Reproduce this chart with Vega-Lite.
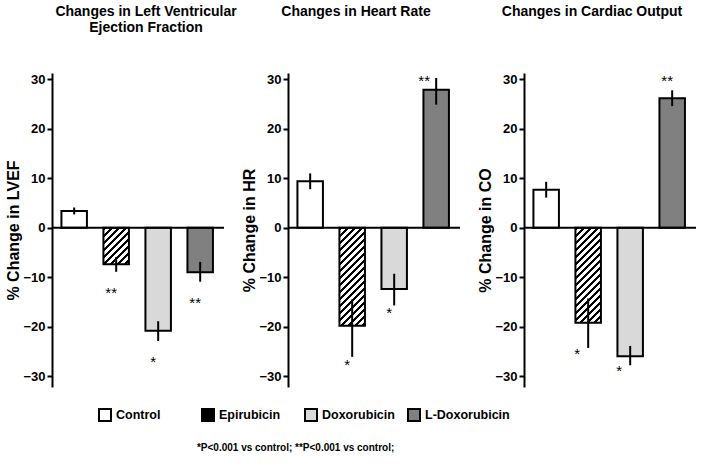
{
  "$schema": "https://vega.github.io/schema/vega-lite/v6.json",
  "background": "white",
  "padding": {"left": 5, "top": 5, "right": 5, "bottom": 5},
  "spacing": 64,
  "bounds": "flush",
  "config": {
    "font": "Liberation Sans",
    "view": {"stroke": null},
    "axis": {
      "domainColor": "black", "domainWidth": 2, "tickColor": "black", "tickWidth": 2, "tickSize": 5,
      "labelColor": "black", "labelFont": "Liberation Sans", "labelFontWeight": "bold", "labelFontSize": 13,
      "titleColor": "black", "titleFont": "Liberation Sans", "titleFontWeight": "bold", "titleFontSize": 16,
      "grid": false, "labelPadding": 2, "titlePadding": 1
    },
    "title": {"font": "Liberation Sans", "fontSize": 14, "fontWeight": "bold", "color": "black", "lineHeight": 16, "anchor": "middle", "offset": 38},
    "legend": {"padding": 0}
  },
  "datasets": {
    "d": [
      {"panel": "LVEF", "group": "Control", "value": 3.4, "lo": 2.7, "hi": 4.1, "sig": ""},
      {"panel": "LVEF", "group": "Epirubicin", "value": -7.4, "lo": -8.9, "hi": -5.9, "sig": "**"},
      {"panel": "LVEF", "group": "Doxorubicin", "value": -20.8, "lo": -22.9, "hi": -18.9, "sig": "*"},
      {"panel": "LVEF", "group": "L-Doxorubicin", "value": -9.0, "lo": -10.9, "hi": -6.9, "sig": "**"},
      {"panel": "HR", "group": "Control", "value": 9.4, "lo": 7.8, "hi": 11.0, "sig": ""},
      {"panel": "HR", "group": "Epirubicin", "value": -19.8, "lo": -26.1, "hi": -14.5, "sig": "*"},
      {"panel": "HR", "group": "Doxorubicin", "value": -12.4, "lo": -15.7, "hi": -9.3, "sig": "*"},
      {"panel": "HR", "group": "L-Doxorubicin", "value": 27.9, "lo": 24.9, "hi": 30.3, "sig": "**"},
      {"panel": "CO", "group": "Control", "value": 7.7, "lo": 6.1, "hi": 9.3, "sig": ""},
      {"panel": "CO", "group": "Epirubicin", "value": -19.2, "lo": -24.3, "hi": -14.3, "sig": "*"},
      {"panel": "CO", "group": "Doxorubicin", "value": -26.0, "lo": -27.8, "hi": -23.9, "sig": "*"},
      {"panel": "CO", "group": "L-Doxorubicin", "value": 26.2, "lo": 24.6, "hi": 27.8, "sig": "**"}
    ]
  },
  "data": {"name": "d"},
  "title": {"text": "*P<0.001 vs control; **P<0.001 vs control;", "orient": "bottom", "anchor": "start", "dx": 191, "offset": 18, "fontSize": 10, "fontWeight": "bold", "lineHeight": 12},
  "resolve": {"scale": {"fill": "shared"}},
  "hconcat": [
    {
      "width": 172, "height": 314,
      "title": {"text": ["Changes in Left Ventricular", "Ejection Fraction"], "dx": 8},
      "transform": [{"filter": "datum.panel === 'LVEF'"}],
      "layer": [
        {
          "mark": {"type": "bar", "stroke": "black", "strokeWidth": 2},
          "encoding": {
            "x": {"field": "group", "type": "nominal", "sort": ["Control", "Epirubicin", "Doxorubicin", "L-Doxorubicin"], "axis": null, "scale": {"paddingInner": 0.393, "paddingOuter": 0.244, "align": 0.46}},
            "y": {"field": "value", "type": "quantitative", "scale": {"domain": [-32.2, 31.3], "nice": false, "zero": false},
                  "axis": {"title": "% Change in LVEF", "values": [-30, -25, -20, -15, -10, -5, 0, 5, 10, 15, 20, 25, 30], "labelExpr": "datum.value % 10 === 0 ? datum.label : ''"}},
            "fill": {
              "condition": {"test": "datum.group === 'Epirubicin'", "value": {"gradient": "linear", "x1": 0, "y1": 0, "x2": 1.615, "y2": 2.318, "stops": [{"offset":0,"color":"#000"},{"offset":0.03,"color":"#000"},{"offset":0.03,"color":"#fff"},{"offset":0.0556,"color":"#fff"},{"offset":0.0556,"color":"#000"},{"offset":0.0856,"color":"#000"},{"offset":0.0856,"color":"#fff"},{"offset":0.1111,"color":"#fff"},{"offset":0.1111,"color":"#000"},{"offset":0.1411,"color":"#000"},{"offset":0.1411,"color":"#fff"},{"offset":0.1667,"color":"#fff"},{"offset":0.1667,"color":"#000"},{"offset":0.1967,"color":"#000"},{"offset":0.1967,"color":"#fff"},{"offset":0.2222,"color":"#fff"},{"offset":0.2222,"color":"#000"},{"offset":0.2522,"color":"#000"},{"offset":0.2522,"color":"#fff"},{"offset":0.2778,"color":"#fff"},{"offset":0.2778,"color":"#000"},{"offset":0.3078,"color":"#000"},{"offset":0.3078,"color":"#fff"},{"offset":0.3333,"color":"#fff"},{"offset":0.3333,"color":"#000"},{"offset":0.3633,"color":"#000"},{"offset":0.3633,"color":"#fff"},{"offset":0.3889,"color":"#fff"},{"offset":0.3889,"color":"#000"},{"offset":0.4189,"color":"#000"},{"offset":0.4189,"color":"#fff"},{"offset":0.4444,"color":"#fff"},{"offset":0.4444,"color":"#000"},{"offset":0.4744,"color":"#000"},{"offset":0.4744,"color":"#fff"},{"offset":0.5,"color":"#fff"},{"offset":0.5,"color":"#000"},{"offset":0.53,"color":"#000"},{"offset":0.53,"color":"#fff"},{"offset":0.5556,"color":"#fff"}]}},
              "field": "group", "type": "nominal",
              "scale": {"domain": ["Control", "Epirubicin", "Doxorubicin", "L-Doxorubicin"], "range": ["white", "#000000", "#d9d9d9", "#808080"]},
              "legend": {"orient": "none", "legendX": 46, "legendY": 335, "direction": "horizontal", "columns": 4, "gridAlign": "all", "columnPadding": -7, "title": null, "symbolType": "square", "symbolSize": 144, "symbolStrokeColor": "black", "symbolStrokeWidth": 2, "labelFont": "Liberation Sans", "labelFontWeight": "bold", "labelFontSize": 12.5, "labelColor": "black", "labelOffset": 4,
                "encode": {"symbols": {"update": {
                  "fill": {"condition": [
                    {"test": "datum.value === 'Epirubicin' || datum.value === 'Control'", "value": "white"},
                    {"test": "datum.value === 'Doxorubicin'", "value": "#d9d9d9"}], "value": "#808080"},
                  "shape": {"condition": {"test": "datum.value === 'Epirubicin'", "value": "M-1,-1H1V1H-1Z M-1,-0.5L-0.5,-1 M-1,0.5L0.5,-1 M-0.5,1L1,-0.5 M0.5,1L1,0.5"}, "value": "square"},
                  "stroke": {"value": "black"}, "strokeWidth": {"value": 2}}}}}
            }
          }
        },
        {
          "mark": {"type": "rule", "color": "black", "strokeWidth": 2},
          "encoding": {
            "x": {"field": "group", "type": "nominal", "sort": ["Control", "Epirubicin", "Doxorubicin", "L-Doxorubicin"]},
            "y": {"field": "lo", "type": "quantitative"}, "y2": {"field": "hi"}
          }
        },
        {
          "data": {"values": [{}]},
          "mark": {"type": "rule", "color": "black", "strokeWidth": 2},
          "encoding": {"y": {"datum": 0}}
        },
        {
          "transform": [{"filter": "datum.value < 0"}],
          "mark": {"type": "text", "fontSize": 15, "baseline": "middle", "dy": 21, "dx": -5, "color": "black"},
          "encoding": {
            "x": {"field": "group", "type": "nominal", "sort": ["Control", "Epirubicin", "Doxorubicin", "L-Doxorubicin"]},
            "y": {"field": "lo", "type": "quantitative"}, "text": {"field": "sig"}
          }
        }
      ]
    },
    {
      "width": 172, "height": 314,
      "title": {"text": ["Changes in Heart Rate", " "], "dx": -18},
      "transform": [{"filter": "datum.panel === 'HR'"}],
      "layer": [
        {
          "mark": {"type": "bar", "stroke": "black", "strokeWidth": 2},
          "encoding": {
            "x": {"field": "group", "type": "nominal", "sort": ["Control", "Epirubicin", "Doxorubicin", "L-Doxorubicin"], "axis": null, "scale": {"paddingInner": 0.393, "paddingOuter": 0.244, "align": 0.46}},
            "y": {"field": "value", "type": "quantitative", "scale": {"domain": [-32.2, 31.3], "nice": false, "zero": false},
                  "axis": {"title": "% Change in HR", "values": [-30, -25, -20, -15, -10, -5, 0, 5, 10, 15, 20, 25, 30], "labelExpr": "datum.value % 10 === 0 ? datum.label : ''"}},
            "fill": {
              "condition": {"test": "datum.group === 'Epirubicin'", "value": {"gradient": "linear", "x1": 0, "y1": 0, "x2": 0.3139, "y2": 1.2052, "stops": [{"offset":0,"color":"#000"},{"offset":0.03,"color":"#000"},{"offset":0.03,"color":"#fff"},{"offset":0.0556,"color":"#fff"},{"offset":0.0556,"color":"#000"},{"offset":0.0856,"color":"#000"},{"offset":0.0856,"color":"#fff"},{"offset":0.1111,"color":"#fff"},{"offset":0.1111,"color":"#000"},{"offset":0.1411,"color":"#000"},{"offset":0.1411,"color":"#fff"},{"offset":0.1667,"color":"#fff"},{"offset":0.1667,"color":"#000"},{"offset":0.1967,"color":"#000"},{"offset":0.1967,"color":"#fff"},{"offset":0.2222,"color":"#fff"},{"offset":0.2222,"color":"#000"},{"offset":0.2522,"color":"#000"},{"offset":0.2522,"color":"#fff"},{"offset":0.2778,"color":"#fff"},{"offset":0.2778,"color":"#000"},{"offset":0.3078,"color":"#000"},{"offset":0.3078,"color":"#fff"},{"offset":0.3333,"color":"#fff"},{"offset":0.3333,"color":"#000"},{"offset":0.3633,"color":"#000"},{"offset":0.3633,"color":"#fff"},{"offset":0.3889,"color":"#fff"},{"offset":0.3889,"color":"#000"},{"offset":0.4189,"color":"#000"},{"offset":0.4189,"color":"#fff"},{"offset":0.4444,"color":"#fff"},{"offset":0.4444,"color":"#000"},{"offset":0.4744,"color":"#000"},{"offset":0.4744,"color":"#fff"},{"offset":0.5,"color":"#fff"},{"offset":0.5,"color":"#000"},{"offset":0.53,"color":"#000"},{"offset":0.53,"color":"#fff"},{"offset":0.5556,"color":"#fff"},{"offset":0.5556,"color":"#000"},{"offset":0.5856,"color":"#000"},{"offset":0.5856,"color":"#fff"},{"offset":0.6111,"color":"#fff"},{"offset":0.6111,"color":"#000"},{"offset":0.6411,"color":"#000"},{"offset":0.6411,"color":"#fff"},{"offset":0.6667,"color":"#fff"},{"offset":0.6667,"color":"#000"},{"offset":0.6967,"color":"#000"},{"offset":0.6967,"color":"#fff"},{"offset":0.7222,"color":"#fff"},{"offset":0.7222,"color":"#000"},{"offset":0.7522,"color":"#000"},{"offset":0.7522,"color":"#fff"},{"offset":0.7778,"color":"#fff"},{"offset":0.7778,"color":"#000"},{"offset":0.8078,"color":"#000"},{"offset":0.8078,"color":"#fff"},{"offset":0.8333,"color":"#fff"},{"offset":0.8333,"color":"#000"},{"offset":0.8633,"color":"#000"},{"offset":0.8633,"color":"#fff"},{"offset":0.8889,"color":"#fff"},{"offset":0.8889,"color":"#000"},{"offset":0.9189,"color":"#000"},{"offset":0.9189,"color":"#fff"},{"offset":0.9444,"color":"#fff"},{"offset":0.9444,"color":"#000"},{"offset":0.9744,"color":"#000"},{"offset":0.9744,"color":"#fff"},{"offset":1,"color":"#fff"}]}},
              "field": "group", "type": "nominal",
              "legend": {"orient": "none", "legendX": 46, "legendY": 335, "direction": "horizontal", "columns": 4, "gridAlign": "all", "columnPadding": -7, "title": null, "symbolType": "square", "symbolSize": 144, "symbolStrokeColor": "black", "symbolStrokeWidth": 2, "labelFont": "Liberation Sans", "labelFontWeight": "bold", "labelFontSize": 12.5, "labelColor": "black", "labelOffset": 4,
                "encode": {"symbols": {"update": {
                  "fill": {"condition": [
                    {"test": "datum.value === 'Epirubicin' || datum.value === 'Control'", "value": "white"},
                    {"test": "datum.value === 'Doxorubicin'", "value": "#d9d9d9"}], "value": "#808080"},
                  "shape": {"condition": {"test": "datum.value === 'Epirubicin'", "value": "M-1,-1H1V1H-1Z M-1,-0.5L-0.5,-1 M-1,0.5L0.5,-1 M-0.5,1L1,-0.5 M0.5,1L1,0.5"}, "value": "square"},
                  "stroke": {"value": "black"}, "strokeWidth": {"value": 2}}}}}
            }
          }
        },
        {
          "mark": {"type": "rule", "color": "black", "strokeWidth": 2},
          "encoding": {
            "x": {"field": "group", "type": "nominal", "sort": ["Control", "Epirubicin", "Doxorubicin", "L-Doxorubicin"]},
            "y": {"field": "lo", "type": "quantitative"}, "y2": {"field": "hi"}
          }
        },
        {
          "data": {"values": [{}]},
          "mark": {"type": "rule", "color": "black", "strokeWidth": 2},
          "encoding": {"y": {"datum": 0}}
        },
        {
          "transform": [{"filter": "datum.value < 0"}],
          "mark": {"type": "text", "fontSize": 15, "baseline": "middle", "dy": 8, "dx": -5, "color": "black"},
          "encoding": {
            "x": {"field": "group", "type": "nominal", "sort": ["Control", "Epirubicin", "Doxorubicin", "L-Doxorubicin"]},
            "y": {"field": "lo", "type": "quantitative"}, "text": {"field": "sig"}
          }
        },
        {
          "transform": [{"filter": "datum.value > 0"}],
          "mark": {"type": "text", "fontSize": 15, "baseline": "top", "dy": -4, "dx": -12, "color": "black"},
          "encoding": {
            "x": {"field": "group", "type": "nominal", "sort": ["Control", "Epirubicin", "Doxorubicin", "L-Doxorubicin"]},
            "y": {"field": "hi", "type": "quantitative"}, "text": {"field": "sig"}
          }
        }
      ]
    },
    {
      "width": 172, "height": 314,
      "title": {"text": ["Changes in Cardiac Output", " "], "dx": -18},
      "transform": [{"filter": "datum.panel === 'CO'"}],
      "layer": [
        {
          "mark": {"type": "bar", "stroke": "black", "strokeWidth": 2},
          "encoding": {
            "x": {"field": "group", "type": "nominal", "sort": ["Control", "Epirubicin", "Doxorubicin", "L-Doxorubicin"], "axis": null, "scale": {"paddingInner": 0.393, "paddingOuter": 0.244, "align": 0.46}},
            "y": {"field": "value", "type": "quantitative", "scale": {"domain": [-32.2, 31.3], "nice": false, "zero": false},
                  "axis": {"title": "% Change in CO", "values": [-30, -25, -20, -15, -10, -5, 0, 5, 10, 15, 20, 25, 30], "labelExpr": "datum.value % 10 === 0 ? datum.label : ''"}},
            "fill": {
              "condition": {"test": "datum.group === 'Epirubicin'", "value": {"gradient": "linear", "x1": 0, "y1": 0, "x2": 0.3325, "y2": 1.2378, "stops": [{"offset":0,"color":"#000"},{"offset":0.03,"color":"#000"},{"offset":0.03,"color":"#fff"},{"offset":0.0556,"color":"#fff"},{"offset":0.0556,"color":"#000"},{"offset":0.0856,"color":"#000"},{"offset":0.0856,"color":"#fff"},{"offset":0.1111,"color":"#fff"},{"offset":0.1111,"color":"#000"},{"offset":0.1411,"color":"#000"},{"offset":0.1411,"color":"#fff"},{"offset":0.1667,"color":"#fff"},{"offset":0.1667,"color":"#000"},{"offset":0.1967,"color":"#000"},{"offset":0.1967,"color":"#fff"},{"offset":0.2222,"color":"#fff"},{"offset":0.2222,"color":"#000"},{"offset":0.2522,"color":"#000"},{"offset":0.2522,"color":"#fff"},{"offset":0.2778,"color":"#fff"},{"offset":0.2778,"color":"#000"},{"offset":0.3078,"color":"#000"},{"offset":0.3078,"color":"#fff"},{"offset":0.3333,"color":"#fff"},{"offset":0.3333,"color":"#000"},{"offset":0.3633,"color":"#000"},{"offset":0.3633,"color":"#fff"},{"offset":0.3889,"color":"#fff"},{"offset":0.3889,"color":"#000"},{"offset":0.4189,"color":"#000"},{"offset":0.4189,"color":"#fff"},{"offset":0.4444,"color":"#fff"},{"offset":0.4444,"color":"#000"},{"offset":0.4744,"color":"#000"},{"offset":0.4744,"color":"#fff"},{"offset":0.5,"color":"#fff"},{"offset":0.5,"color":"#000"},{"offset":0.53,"color":"#000"},{"offset":0.53,"color":"#fff"},{"offset":0.5556,"color":"#fff"},{"offset":0.5556,"color":"#000"},{"offset":0.5856,"color":"#000"},{"offset":0.5856,"color":"#fff"},{"offset":0.6111,"color":"#fff"},{"offset":0.6111,"color":"#000"},{"offset":0.6411,"color":"#000"},{"offset":0.6411,"color":"#fff"},{"offset":0.6667,"color":"#fff"},{"offset":0.6667,"color":"#000"},{"offset":0.6967,"color":"#000"},{"offset":0.6967,"color":"#fff"},{"offset":0.7222,"color":"#fff"},{"offset":0.7222,"color":"#000"},{"offset":0.7522,"color":"#000"},{"offset":0.7522,"color":"#fff"},{"offset":0.7778,"color":"#fff"},{"offset":0.7778,"color":"#000"},{"offset":0.8078,"color":"#000"},{"offset":0.8078,"color":"#fff"},{"offset":0.8333,"color":"#fff"},{"offset":0.8333,"color":"#000"},{"offset":0.8633,"color":"#000"},{"offset":0.8633,"color":"#fff"},{"offset":0.8889,"color":"#fff"},{"offset":0.8889,"color":"#000"},{"offset":0.9189,"color":"#000"},{"offset":0.9189,"color":"#fff"},{"offset":0.9444,"color":"#fff"},{"offset":0.9444,"color":"#000"},{"offset":0.9744,"color":"#000"},{"offset":0.9744,"color":"#fff"},{"offset":1,"color":"#fff"}]}},
              "field": "group", "type": "nominal",
              "legend": {"orient": "none", "legendX": 46, "legendY": 335, "direction": "horizontal", "columns": 4, "gridAlign": "all", "columnPadding": -7, "title": null, "symbolType": "square", "symbolSize": 144, "symbolStrokeColor": "black", "symbolStrokeWidth": 2, "labelFont": "Liberation Sans", "labelFontWeight": "bold", "labelFontSize": 12.5, "labelColor": "black", "labelOffset": 4,
                "encode": {"symbols": {"update": {
                  "fill": {"condition": [
                    {"test": "datum.value === 'Epirubicin' || datum.value === 'Control'", "value": "white"},
                    {"test": "datum.value === 'Doxorubicin'", "value": "#d9d9d9"}], "value": "#808080"},
                  "shape": {"condition": {"test": "datum.value === 'Epirubicin'", "value": "M-1,-1H1V1H-1Z M-1,-0.5L-0.5,-1 M-1,0.5L0.5,-1 M-0.5,1L1,-0.5 M0.5,1L1,0.5"}, "value": "square"},
                  "stroke": {"value": "black"}, "strokeWidth": {"value": 2}}}}}
            }
          }
        },
        {
          "mark": {"type": "rule", "color": "black", "strokeWidth": 2},
          "encoding": {
            "x": {"field": "group", "type": "nominal", "sort": ["Control", "Epirubicin", "Doxorubicin", "L-Doxorubicin"]},
            "y": {"field": "lo", "type": "quantitative"}, "y2": {"field": "hi"}
          }
        },
        {
          "data": {"values": [{}]},
          "mark": {"type": "rule", "color": "black", "strokeWidth": 2},
          "encoding": {"y": {"datum": 0}}
        },
        {
          "transform": [{"filter": "datum.value < 0"}],
          "mark": {"type": "text", "fontSize": 15, "baseline": "middle", "dy": 6, "dx": -11, "color": "black"},
          "encoding": {
            "x": {"field": "group", "type": "nominal", "sort": ["Control", "Epirubicin", "Doxorubicin", "L-Doxorubicin"]},
            "y": {"field": "lo", "type": "quantitative"}, "text": {"field": "sig"}
          }
        },
        {
          "transform": [{"filter": "datum.value > 0"}],
          "mark": {"type": "text", "fontSize": 15, "baseline": "top", "dy": -16, "dx": -5, "color": "black"},
          "encoding": {
            "x": {"field": "group", "type": "nominal", "sort": ["Control", "Epirubicin", "Doxorubicin", "L-Doxorubicin"]},
            "y": {"field": "hi", "type": "quantitative"}, "text": {"field": "sig"}
          }
        }
      ]
    }
  ]
}
